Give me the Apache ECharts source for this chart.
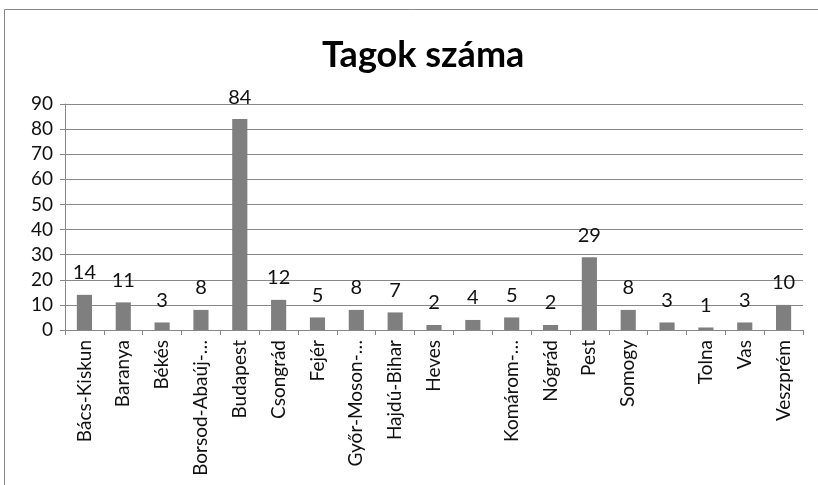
<!DOCTYPE html>
<html><head><meta charset="utf-8">
<script src="https://cdn.jsdelivr.net/npm/echarts@6/dist/echarts.min.js"></script>
<style>html,body{margin:0;padding:0;background:#fff}#c{width:818px;height:485px}</style>
</head><body><div id="c"></div>
<script>
const categories = ["Bács-Kiskun","Baranya","Békés","Borsod-Abaúj-…","Budapest","Csongrád","Fejér","Győr-Moson-…","Hajdú-Bihar","Heves","","Komárom-…","Nógrád","Pest","Somogy","","Tolna","Vas","Veszprém"];
const values = [14,11,3,8,84,12,5,8,7,2,4,5,2,29,8,3,1,3,10];
const yTicks = {min:0, max:90, interval:10};
const FONT = 'Lato, "Open Sans", sans-serif';
const chart = echarts.init(document.getElementById('c'));
chart.setOption({
  animation:false,
  title:{text:'Tagok száma', left:317, top:32, textStyle:{fontFamily:FONT, fontSize:36, fontWeight:'bold', color:'#000'}},
  graphic:[{type:'rect', shape:{x:4.5,y:9.5,width:830,height:500}, style:{fill:'none', stroke:'#888', lineWidth:1}}],
  grid:{left:65, right:15, top:104, bottom:155},
  xAxis:{type:'category', data:categories,
    axisLine:{lineStyle:{color:'#888'}},
    axisTick:{show:true, length:5, lineStyle:{color:'#888'}},
    axisLabel:{rotate:90, interval:0, margin:10, color:'#111', fontFamily:FONT, fontSize:19}},
  yAxis:{type:'value', min:yTicks.min, max:yTicks.max, interval:yTicks.interval,
    axisLine:{show:true, lineStyle:{color:'#888'}},
    axisTick:{show:true, length:5, lineStyle:{color:'#888'}},
    splitLine:{lineStyle:{color:'#888'}},
    axisLabel:{color:'#111', fontFamily:FONT, fontSize:19, margin:12}},
  series:[{type:'bar', data:values, barWidth:'39%', itemStyle:{color:'#7f7f7f'},
    label:{show:true, position:'top', distance:12, color:'#111', fontFamily:FONT, fontSize:20}}]
});
</script></body></html>
